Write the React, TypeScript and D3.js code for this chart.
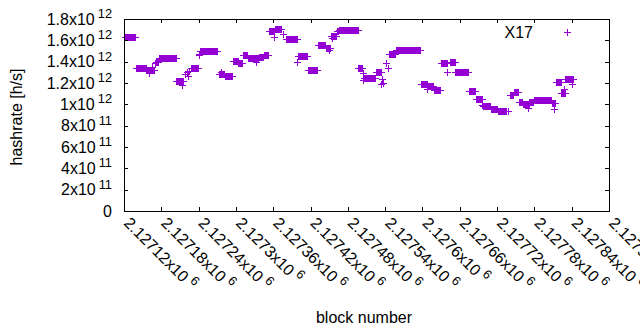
import React from "react";
import * as d3 from "d3";

// runs of blocks that share the same hashrate estimate (value in 1e12 h/s)
const runStart = [
  2127122, 2127140, 2127156, 2127171, 2127176, 2127204, 2127228, 2127242,
  2127273, 2127282, 2127295, 2127304, 2127311, 2127319, 2127337, 2127345,
  2127353, 2127363, 2127381, 2127400, 2127416, 2127432, 2127445, 2127453,
  2127462, 2127465, 2127497, 2127506, 2127525, 2127546, 2127557, 2127597,
  2127608, 2127618, 2127630, 2127644, 2127653, 2127675, 2127686, 2127697,
  2127710, 2127722, 2127740, 2127747, 2127755, 2127761, 2127772, 2127779,
  2127808, 2127814, 2127823, 2127830,
];
const runEnd = [
  2127138, 2127155, 2127169, 2127175, 2127203, 2127215, 2127239, 2127270,
  2127281, 2127294, 2127303, 2127310, 2127318, 2127335, 2127344, 2127351,
  2127361, 2127373, 2127398, 2127415, 2127431, 2127443, 2127452, 2127461,
  2127464, 2127496, 2127503, 2127524, 2127533, 2127556, 2127596, 2127607,
  2127617, 2127628, 2127640, 2127652, 2127674, 2127685, 2127695, 2127709,
  2127720, 2127734, 2127746, 2127754, 2127760, 2127771, 2127777, 2127807,
  2127813, 2127822, 2127829, 2127842,
];
const runValue = [
  1.627, 1.338, 1.325, 1.4, 1.431, 1.216, 1.344, 1.503,
  1.284, 1.264, 1.403, 1.3875, 1.46, 1.434, 1.44, 1.46,
  1.685, 1.703, 1.61, 1.45, 1.319, 1.556, 1.53, 1.637,
  1.683, 1.694, 1.34, 1.25, 1.3, 1.47, 1.505, 1.194,
  1.17, 1.131, 1.387, 1.397, 1.3, 1.123, 1.05, 0.98,
  0.956, 0.933, 1.09, 1.113, 1.025, 1.005, 1.019, 1.038,
  1.015, 1.208, 1.108, 1.2375,
];

// single blocks off the runs
const loneBlock = [
  2127161, 2127165, 2127170, 2127214, 2127218, 2127221, 2127223, 2127225,
  2127240, 2127241, 2127276, 2127332, 2127362, 2127376, 2127399, 2127447,
  2127450, 2127454, 2127504, 2127505, 2127533, 2127535, 2127537, 2127541,
  2127545, 2127607, 2127640, 2127696, 2127721, 2127738, 2127770, 2127812,
  2127828, 2127841,
];
const loneValue = [
  1.297, 1.35, 1.385, 1.184, 1.28, 1.3, 1.27, 1.31,
  1.46, 1.475, 1.3, 1.397, 1.634, 1.66, 1.394, 1.525,
  1.51, 1.62, 1.228, 1.294, 1.19, 1.24, 1.2, 1.387,
  1.338, 1.14, 1.3, 0.99, 0.94, 0.94, 0.97, 0.956,
  1.14, 1.186,
];

const xTicks = [
  2127120, 2127180, 2127240, 2127300, 2127360, 2127420, 2127480,
  2127540, 2127600, 2127660, 2127720, 2127780, 2127840, 2127900,
];
const xTickMant = [
  "2.12712", "2.12718", "2.12724", "2.1273", "2.12736", "2.12742", "2.12748",
  "2.12754", "2.1276", "2.12766", "2.12772", "2.12778", "2.12784", "2.1279",
];
const yTicks = [0, 2e11, 4e11, 6e11, 8e11, 1e12, 1.2e12, 1.4e12, 1.6e12, 1.8e12];
const yTickMant = ["0", "2", "4", "6", "8", "1", "1.2", "1.4", "1.6", "1.8"];
const yTickExp = ["", "11", "11", "11", "11", "12", "12", "12", "12", "12"];

const color = "#9400d3";
const font = "'Liberation Sans', Arial, sans-serif";

export default function App() {
  const width = 640, height = 330;
  const margin = { top: 19, right: 31, bottom: 119, left: 124 };

  const x = d3.scaleLinear()
    .domain([xTicks[0], xTicks[xTicks.length - 1]])
    .range([margin.left, width - margin.right]);
  const y = d3.scaleLinear()
    .domain([0, 1.8e12])
    .range([height - margin.bottom, margin.top]);

  const pts: { b: number; v: number }[] = [];
  runStart.forEach((s, i) => {
    for (let b = s; b <= runEnd[i]; b++) pts.push({ b, v: runValue[i] * 1e12 });
  });
  loneBlock.forEach((b, i) => pts.push({ b, v: loneValue[i] * 1e12 }));

  const plus = "M-3.5,0H3.5M0,-3.5V3.5";
  const x0 = margin.left, x1 = width - margin.right;
  const y0 = height - margin.bottom, y1 = margin.top;
  const tick = 4;

  return (
    <div style={{ position: "fixed", left: 0, top: 0 }}>
      <svg width={width} height={height} style={{ display: "block", background: "#fff" }}
        fontFamily={font} fontSize={16}>
        <g shapeRendering="crispEdges" stroke={color} strokeWidth={1} fill="none">
          {pts.map((d, i) => (
            <path key={i} d={plus}
              transform={`translate(${Math.round(x(d.b)) + 0.5},${Math.round(y(d.v)) + 0.5})`} />
          ))}
        </g>

        <g shapeRendering="crispEdges" stroke="#000" strokeWidth={1}>
          <rect x={x0 + 0.5} y={y1 + 0.5} width={x1 - x0} height={y0 - y1} fill="none" />
          {xTicks.map((t) => {
            const px = Math.round(x(t)) + 0.5;
            return (
              <g key={t}>
                <line x1={px} x2={px} y1={y0} y2={y0 - tick} />
                <line x1={px} x2={px} y1={y1} y2={y1 + tick} />
              </g>
            );
          })}
          {yTicks.map((t) => {
            const py = Math.round(y(t)) + 0.5;
            return (
              <g key={t}>
                <line x1={x0} x2={x0 + tick} y1={py} y2={py} />
                <line x1={x1} x2={x1 - tick} y1={py} y2={py} />
              </g>
            );
          })}
        </g>

        <g fill="#000">
          {yTicks.map((t, i) => (
            <text key={t} x={112} y={y(t) + 5.5} textAnchor="end">
              {yTickMant[i] + (yTickExp[i] ? "x10" : "")}
              {yTickExp[i] && (
                <tspan fontSize={12.8} dx={3} dy={-6.5}>{yTickExp[i]}</tspan>
              )}
            </text>
          ))}
          {xTicks.map((t, i) => (
            <text key={t} transform={`translate(${x(t) - 1},${y0 + 13}) rotate(45)`}>
              {xTickMant[i] + "x10"}
              <tspan fontSize={12.8} dx={4} dy={-6.5}>6</tspan>
            </text>
          ))}
          <text transform={`translate(22,117) rotate(-90)`} textAnchor="middle">hashrate [h/s]</text>
          <text x={364} y={323} textAnchor="middle">block number</text>
          <text x={533} y={37.5} textAnchor="end">X17</text>
        </g>
        <path d={plus} stroke={color} shapeRendering="crispEdges"
          transform="translate(567.5,32.5)" />
      </svg>
    </div>
  );
}
